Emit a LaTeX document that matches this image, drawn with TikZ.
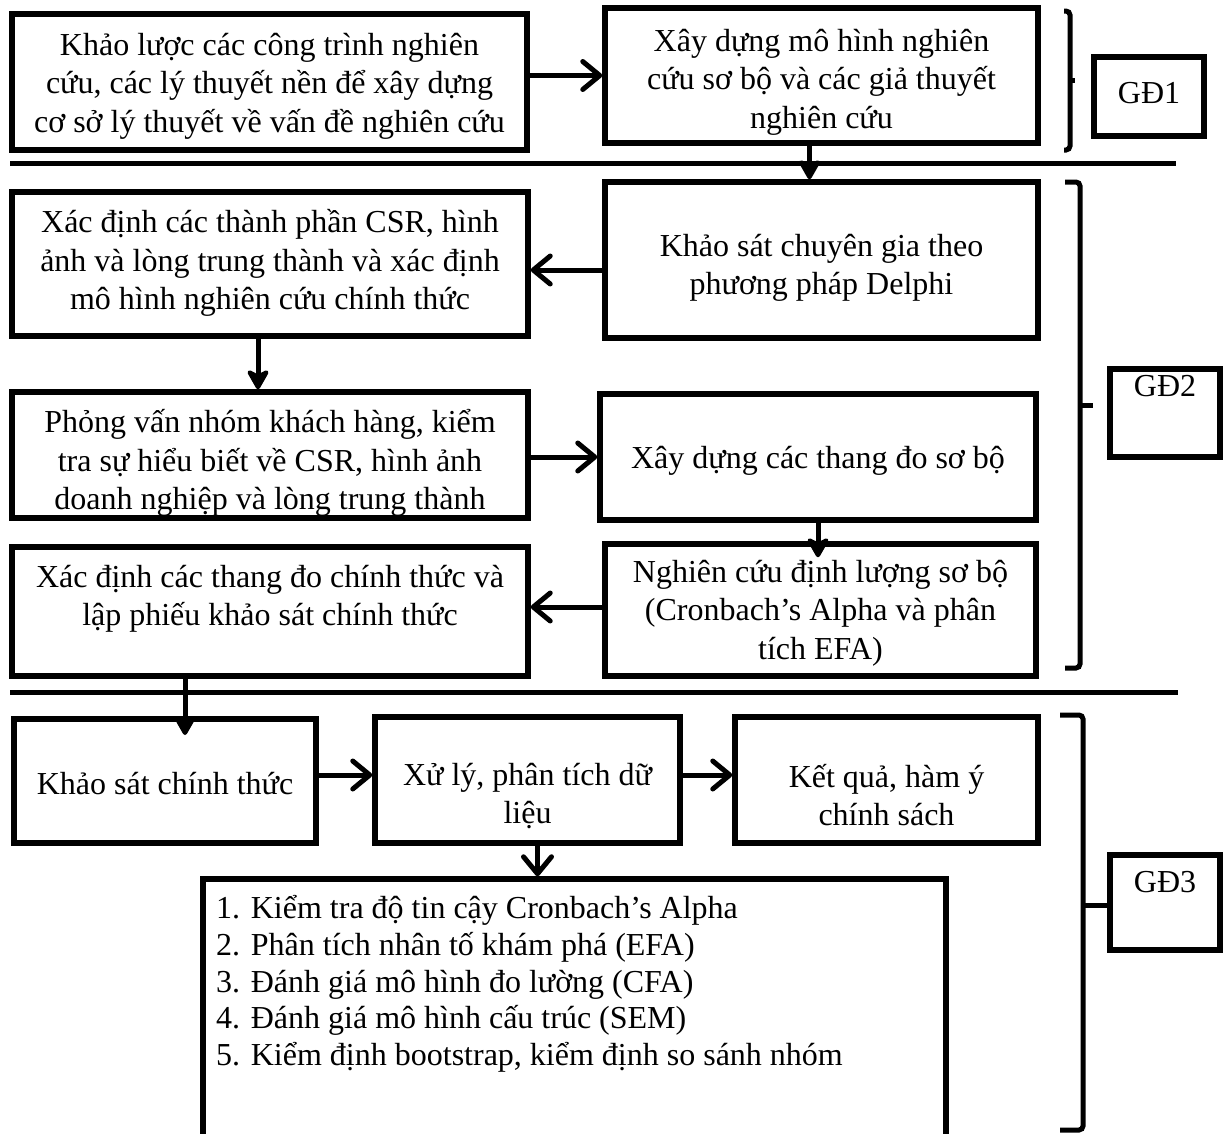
\documentclass[tikz,border=0pt]{standalone}
\usepackage{fontspec}
\setmainfont{Liberation Serif}
\usetikzlibrary{arrows.meta}
\begin{document}
\begin{tikzpicture}[x=1pt,y=-1pt,
  box/.style={draw,line width=5.5pt,rectangle,inner sep=0pt},
  txt/.style={align=center,inner sep=0pt,font=\fontsize{32}{38.5}\selectfont},
  barb/.style={line width=5pt,-{Straight Barb[length=17pt,width=28pt,line cap=round,line join=round]}},
  head/.style={line width=5pt,-{Stealth[length=24pt,width=27pt,inset=7pt,round]}},
  sep/.style={line width=5pt},
  brk/.style={line width=5pt,rounded corners=4pt},
  nub/.style={line width=5pt}]
\useasboundingbox (0,0) rectangle (1229,1133);
\fill[white] (0,0) rectangle (1229,1133);

% ---- stage 1 ----
\node[box,minimum width=515pt,minimum height=136pt] (A) at (269.5,82) {};
\node[txt] (tA) at (269.5,86) {Khảo lược các công trình nghiên\\cứu, các lý thuyết nền để xây dựng\\cơ sở lý thuyết về vấn đề nghiên cứu};
\node[box,minimum width=433pt,minimum height=135pt] (B) at (821.5,75.5) {};
\node[txt] (tB) at (821.5,82) {Xây dựng mô hình nghiên\\cứu sơ bộ và các giả thuyết\\nghiên cứu};
\node[box,minimum width=110pt,minimum height=79pt] (G1) at (1149,96.5) {};
\node[txt] (tG1) at (1149,93) {GĐ1};

\draw[barb] (A.east |- B.west) -- (B.west);
\draw[brk] (1064,11) -- (1070,11) -- (1070,150) -- (1064,150);
\draw[nub] (1070,80) -- (1075,80);

\draw[sep] (10,163) -- (1176,163);

% ---- stage 2 ----
\node[box,minimum width=516pt,minimum height=144pt] (C) at (270,264) {};
\node[txt] (tC) at (270,263) {Xác định các thành phần CSR, hình\\ảnh và lòng trung thành và xác định\\mô hình nghiên cứu chính thức};
\node[box,minimum width=433pt,minimum height=156pt] (D) at (821.5,260) {};
\node[txt] (tD) at (821.5,268) {Khảo sát chuyên gia theo\\phương pháp Delphi};
\node[box,minimum width=516pt,minimum height=126pt] (E) at (270,455) {};
\begin{scope}
  \clip (15,395) rectangle (525,515);
  \node[txt] (tE) at (270,463) {Phỏng vấn nhóm khách hàng, kiểm\\tra sự hiểu biết về CSR, hình ảnh\\doanh nghiệp và lòng trung thành};
\end{scope}
\node[box,minimum width=436pt,minimum height=126pt] (F) at (818,457) {};
\node[txt] (tF) at (818,461) {Xây dựng các thang đo sơ bộ};
\node[box,minimum width=431pt,minimum height=132pt] (G) at (820.5,610) {};
\node[txt] (tG) at (820.5,613) {Nghiên cứu định lượng sơ bộ\\(Cronbach’s Alpha và phân\\tích EFA)};
\node[box,minimum width=516pt,minimum height=129pt] (H) at (270,611.5) {};
\node[txt] (tH) at (270,599) {Xác định các thang đo chính thức và\\lập phiếu khảo sát chính thức};
\node[box,minimum width=110pt,minimum height=88pt] (G2) at (1165,413) {};
\node[txt] (tG2) at (1165,386) {GĐ2};

\coordinate (bd) at ([xshift=-12pt]B.south);
\draw[head] (bd) -- (bd |- D.north);
\coordinate (dc) at ([yshift=-10pt]D.west);
\draw[barb] (dc) -- (dc -| C.east);
\coordinate (ce) at ([xshift=-12pt]C.south);
\draw[head] (ce) -- (ce |- E.north);
\draw[barb] (E.east |- F.west) -- (F.west);
\coordinate (fg) at ([yshift=-16pt]G.north);
\draw[head] (F.south) -- (F.south |- fg);
\coordinate (gh) at ([yshift=3pt]G.west);
\draw[barb] (gh) -- (gh -| H.east);
\draw[brk] (1065,182) -- (1080,182) -- (1080,668) -- (1065,668);
\draw[nub] (1080,405) -- (1093,405);

\draw[sep] (10,692) -- (1178,692);

% ---- stage 3 ----
\node[box,minimum width=302pt,minimum height=124pt] (I) at (165,781) {};
\node[txt] (tI) at (165,784) {Khảo sát chính thức};
\node[box,minimum width=305pt,minimum height=126pt] (J) at (527.5,780) {};
\node[txt] (tJ) at (527.5,796) {Xử lý, phân tích dữ\\liệu};
\node[box,minimum width=303pt,minimum height=126pt] (K) at (886.5,780) {};
\node[txt] (tK) at (886.5,795) {Kết quả, hàm ý\\chính sách};
\node[box,minimum width=743pt,minimum height=280pt] (L) at (574.5,1019) {};
\node[txt,align=left,anchor=north west,font=\fontsize{32}{36.8}\selectfont] (tL) at (216,895) {1. Kiểm tra độ tin cậy Cronbach’s Alpha\\2. Phân tích nhân tố khám phá (EFA)\\3. Đánh giá mô hình đo lường (CFA)\\4. Đánh giá mô hình cấu trúc (SEM)\\5. Kiểm định bootstrap, kiểm định so sánh nhóm};
\node[box,minimum width=110pt,minimum height=95pt] (G3) at (1165,902.5) {};
\node[txt] (tG3) at (1165,882) {GĐ3};

\coordinate (hi) at (185,735);
\draw[head] (hi |- H.south) -- (hi);
\coordinate (ij) at (0,775);
\draw[barb] (I.east |- ij) -- (J.west |- ij);
\draw[barb] (J.east |- ij) -- (K.west |- ij);
\coordinate (jl) at ([xshift=10pt]J.south);
\draw[barb] (jl) -- (jl |- L.north);
\draw[brk] (1060,715) -- (1083,715) -- (1083,1130) -- (1060,1130);
\draw[nub] (1083,905) -- (G3.west |- 0,905);
\end{tikzpicture}
\end{document}
